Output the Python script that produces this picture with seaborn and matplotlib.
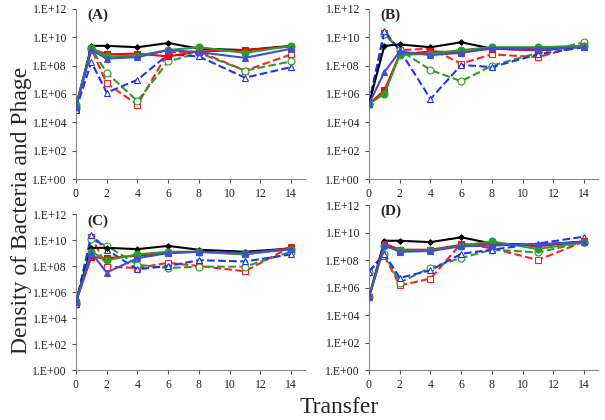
import numpy as np
import pandas as pd
import matplotlib
matplotlib.use("Agg")
import matplotlib.pyplot as plt
import seaborn as sns
from matplotlib.ticker import FuncFormatter, FixedLocator

transfer = [0, 1, 2, 4, 6, 8, 11, 14]

# log10 densities
# order: black, red solid, green solid, blue solid, red dashed, green dashed, blue dashed
A_black = [5.1, 9.4, 9.4, 9.3, 9.6, 9.2, 9.1, 9.4]
A_red = [5.1, 9.2, 8.8, 8.85, 8.65, 9.0, 9.1, 9.35]
A_green = [5.2, 9.25, 8.65, 8.7, 9.1, 9.3, 8.9, 9.4]
A_blue = [5.1, 9.1, 8.5, 8.6, 9.1, 8.95, 8.55, 9.2]
A_red_d = [4.9, 9.2, 6.75, 5.25, 8.95, 9.0, 7.65, 8.8]
A_green_d = [5.0, 9.2, 7.5, 5.5, 8.3, 8.9, 7.65, 8.3]
A_blue_d = [4.9, 8.25, 6.1, 7.0, 8.8, 8.65, 7.15, 7.9]

B_black = [5.3, 9.4, 9.5, 9.3, 9.65, 9.2, 9.1, 9.35]
B_red = [5.3, 6.25, 8.8, 9.0, 8.95, 9.2, 9.1, 9.4]
B_green = [5.3, 6.0, 8.75, 8.85, 9.1, 9.3, 9.3, 9.4]
B_blue = [5.3, 7.55, 9.0, 8.75, 8.9, 9.25, 9.2, 9.3]
B_red_d = [5.3, 10.3, 9.1, 9.2, 8.15, 8.8, 8.6, 9.5]
B_green_d = [5.3, 10.25, 9.1, 7.7, 6.9, 8.0, 8.9, 9.65]
B_blue_d = [5.3, 10.45, 9.1, 5.65, 8.05, 7.9, 8.8, 9.3]

C_black = [5.25, 9.4, 9.4, 9.3, 9.55, 9.25, 9.1, 9.35]
C_red = [5.25, 8.7, 8.6, 8.8, 9.0, 9.1, 8.9, 9.4]
C_green = [5.25, 9.1, 8.45, 8.9, 9.1, 9.1, 8.9, 9.3]
C_blue = [5.25, 9.0, 7.5, 8.6, 9.0, 9.1, 9.0, 9.3]
C_red_d = [5.1, 10.25, 7.95, 7.85, 8.25, 8.0, 7.6, 9.5]
C_green_d = [5.1, 10.05, 9.55, 8.1, 7.85, 7.95, 7.95, 9.1]
C_blue_d = [5.1, 10.4, 9.25, 7.75, 8.0, 8.45, 8.35, 8.9]

D_black = [5.3, 9.4, 9.4, 9.3, 9.65, 9.2, 9.1, 9.35]
D_red = [5.3, 9.2, 8.75, 8.75, 9.1, 9.2, 9.0, 9.35]
D_green = [5.3, 9.0, 8.7, 8.7, 9.05, 9.35, 8.8, 9.3]
D_blue = [5.3, 9.1, 8.6, 8.65, 9.0, 9.05, 9.15, 9.3]
D_red_d = [7.15, 8.3, 6.15, 6.65, 9.2, 8.85, 8.0, 9.35]
D_green_d = [7.15, 8.45, 6.35, 7.45, 8.15, 8.75, 8.55, 9.3]
D_blue_d = [7.15, 8.45, 6.7, 7.25, 8.45, 8.75, 9.2, 9.7]

panels = {
    "(A)": [A_black, A_red, A_green, A_blue, A_red_d, A_green_d, A_blue_d],
    "(B)": [B_black, B_red, B_green, B_blue, B_red_d, B_green_d, B_blue_d],
    "(C)": [C_black, C_red, C_green, C_blue, C_red_d, C_green_d, C_blue_d],
    "(D)": [D_black, D_red, D_green, D_blue, D_red_d, D_green_d, D_blue_d],
}

# color, marker, linestyle, filled, markersize
styles = [
    ("#000000", "D", "-", True, 2.8),
    ("#ff0000", "s", "-", True, 4.5),
    ("#2a9d2a", "o", "-", True, 5),
    ("#3f4fd6", "^", "-", True, 5),
    ("#ff2020", "s", "--", False, 5),
    ("#2a9d2a", "o", "--", False, 5),
    ("#1a33ff", "^", "--", False, 5),
]

sns.set_style("white")
plt.rcParams["font.family"] = ["Liberation Serif", "DejaVu Serif"]

fig = plt.figure(figsize=(6.05, 4.2), dpi=100)
positions = {
    "(A)": [0.1256, 0.5738, 0.3785, 0.4048],
    "(B)": [0.6099, 0.5738, 0.3785, 0.4048],
    "(C)": [0.1256, 0.1190, 0.3785, 0.3714],
    "(D)": [0.6099, 0.1190, 0.3785, 0.3929],
}

fmt = FuncFormatter(lambda v, p: "1.E+%02d" % int(round(np.log10(v))))

for name, series in panels.items():
    ax = fig.add_axes(positions[name])
    for vals, (col, mk, ls, filled, ms) in zip(series, styles):
        dens = [10 ** v for v in vals]
        sns.lineplot(x=transfer, y=dens, ax=ax, color=col, linestyle=ls,
                     linewidth=1.5, marker=mk, markersize=ms,
                     markerfacecolor=col if filled else "white",
                     markeredgecolor=col, markeredgewidth=0.8,
                     zorder=3 if filled else 2)
    ax.set_yscale("log")
    ax.set_ylim(1, 1e12)
    ax.set_xlim(0, 14.9)
    ax.yaxis.set_major_locator(FixedLocator([10.0 ** k for k in range(0, 13, 2)]))
    ax.yaxis.set_minor_locator(FixedLocator([]))
    ax.yaxis.set_major_formatter(fmt)
    ax.set_xticks(range(0, 15, 2))
    ax.tick_params(axis="both", labelsize=8.5, length=3, width=0.8,
                   direction="out", colors="#555555", labelcolor="#222222")
    ax.tick_params(axis="y", left=True)
    ax.tick_params(axis="x", bottom=True)
    sns.despine(ax=ax)
    for s in ["left", "bottom"]:
        ax.spines[s].set_color("#888888")
        ax.spines[s].set_linewidth(0.8)
    ax.text(0.05, 1.0, name, transform=ax.transAxes, fontsize=11,
            fontweight="bold", va="top", ha="left")

fig.text(0.035, 0.5, "Density of Bacteria and Phage", rotation=90,
         fontsize=17, va="center", ha="center")
fig.text(0.56, 0.03, "Transfer", fontsize=17, ha="center", va="center")

fig.savefig("out.png", dpi=100)
